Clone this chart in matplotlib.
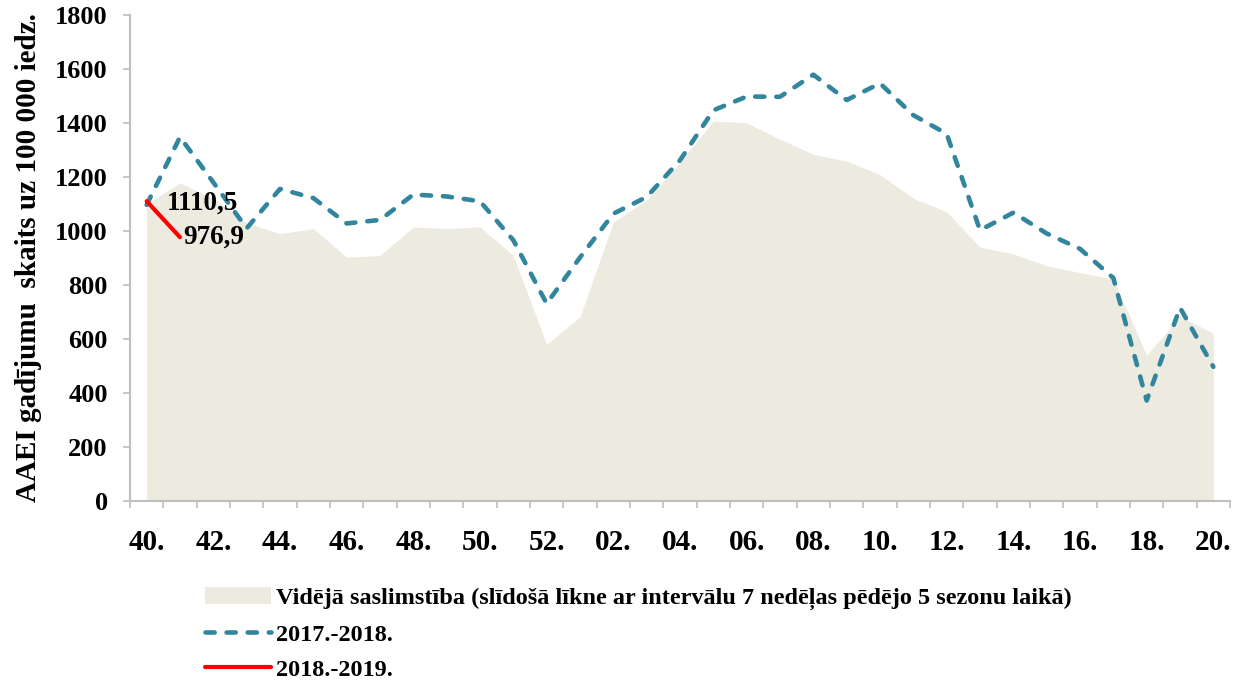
import matplotlib
matplotlib.use("Agg")
import matplotlib.pyplot as plt
from matplotlib.patches import Patch
from matplotlib.lines import Line2D
import numpy as np

weeks = ["40", "41", "42", "43", "44", "45", "46", "47", "48", "49", "50", "51", "52",
         "01", "02", "03", "04", "05", "06", "07", "08", "09", "10", "11", "12", "13",
         "14", "15", "16", "17", "18", "19", "20"]

avg_5seasons = [1100, 1178, 1120, 1030, 990, 1009, 903, 909, 1015, 1009, 1015, 909, 580,
                682, 1033, 1114, 1255, 1407, 1401, 1340, 1284, 1259, 1209, 1121, 1071, 940,
                915, 871, 846, 821, 540, 684, 621]

season_2017_2018 = [1097, 1348, 1180, 1010, 1156, 1122, 1028, 1041, 1135, 1128, 1110, 966, 731,
                    902, 1064, 1126, 1262, 1447, 1498, 1497, 1579, 1485, 1547, 1429, 1360, 1003,
                    1068, 991, 934, 826, 372, 716, 497]

season_2018_2019 = [1110.5, 976.9]
labels_2018_2019 = ["1110,5", "976,9"]

legend_labels = ["Vidējā saslimstība (slīdošā līkne ar intervālu 7 nedēļas pēdējo 5 sezonu laikā)",
                 "2017.-2018.", "2018.-2019."]
ylabel = "AAEI gadījumu  skaits uz 100 000 iedz."

FONT = "Liberation Serif"
AREA = "#EDEAE0"
TEAL = "#31859C"
RED = "#FF0000"
GRAY = "#BFBFBF"

plt.rcParams["font.family"] = [FONT, "DejaVu Serif"]
plt.rcParams["font.weight"] = "bold"

fig = plt.figure(figsize=(12.45, 6.87), dpi=100)
ax = fig.add_axes([130 / 1245, 1 - 501 / 687, 1100 / 1245, (501 - 15) / 687])

x = np.arange(len(weeks))
ax.fill_between(x, 0, avg_5seasons, color=AREA, lw=0, zorder=1)
ax.plot(x, season_2017_2018, color=TEAL, lw=3.3, dashes=(2.0, 2.6),
        dash_capstyle="round", solid_capstyle="round", zorder=3)
x2 = np.arange(len(season_2018_2019))
ax.plot(x2, season_2018_2019, color=RED, lw=3.0, solid_capstyle="round", zorder=4)

offsets = [(20, -2), (3, 0)]
for xi, yi, lab, off in zip(x2, season_2018_2019, labels_2018_2019, offsets):
    ax.annotate(lab, (xi, yi), xytext=off, textcoords="offset pixels",
                ha="left", va="center", fontsize=19.5, fontweight="bold", color="black", zorder=5)

ax.set_xlim(-0.5, len(weeks) - 0.5)
ax.set_ylim(0, 1800)
ax.set_yticks(np.arange(0, 1801, 200))
ax.set_xticks(x[::2])
ax.set_xticklabels([w + "." for w in weeks[::2]])
ax.set_xticks(np.arange(-0.5, len(weeks), 1), minor=True)

ax.tick_params(axis="x", which="major", length=0, pad=20, labelsize=21)
ax.tick_params(axis="x", which="minor", length=5, width=1.2, color=GRAY, direction="out")
ax.tick_params(axis="y", which="major", length=5, width=1.2, color=GRAY, direction="out",
               pad=11, labelsize=19)
for lab in ax.get_xticklabels() + ax.get_yticklabels():
    lab.set_fontweight("bold")

for s in ["top", "right"]:
    ax.spines[s].set_visible(False)
for s in ["left", "bottom"]:
    ax.spines[s].set_color(GRAY)
    ax.spines[s].set_linewidth(1.5)

fig.text(29 / 1245, 1 - 258 / 687, ylabel, rotation=90, ha="center", va="center",
         fontsize=21, fontweight="bold")

handles = [Patch(facecolor=AREA, edgecolor="none"),
           Line2D([], [], color=TEAL, lw=3.3, dashes=(2.0, 2.6), dash_capstyle="round"),
           Line2D([], [], color=RED, lw=3.0, solid_capstyle="round")]
leg = fig.legend(handles, legend_labels, loc="upper left",
                 bbox_to_anchor=(205 / 1245, 1 - 587 / 687), frameon=False,
                 borderpad=0, borderaxespad=0, handlelength=2.7, handletextpad=0.22,
                 labelspacing=0.55, prop={"family": FONT, "weight": "bold", "size": 17.5})

fig.savefig("out.png", dpi=100)
